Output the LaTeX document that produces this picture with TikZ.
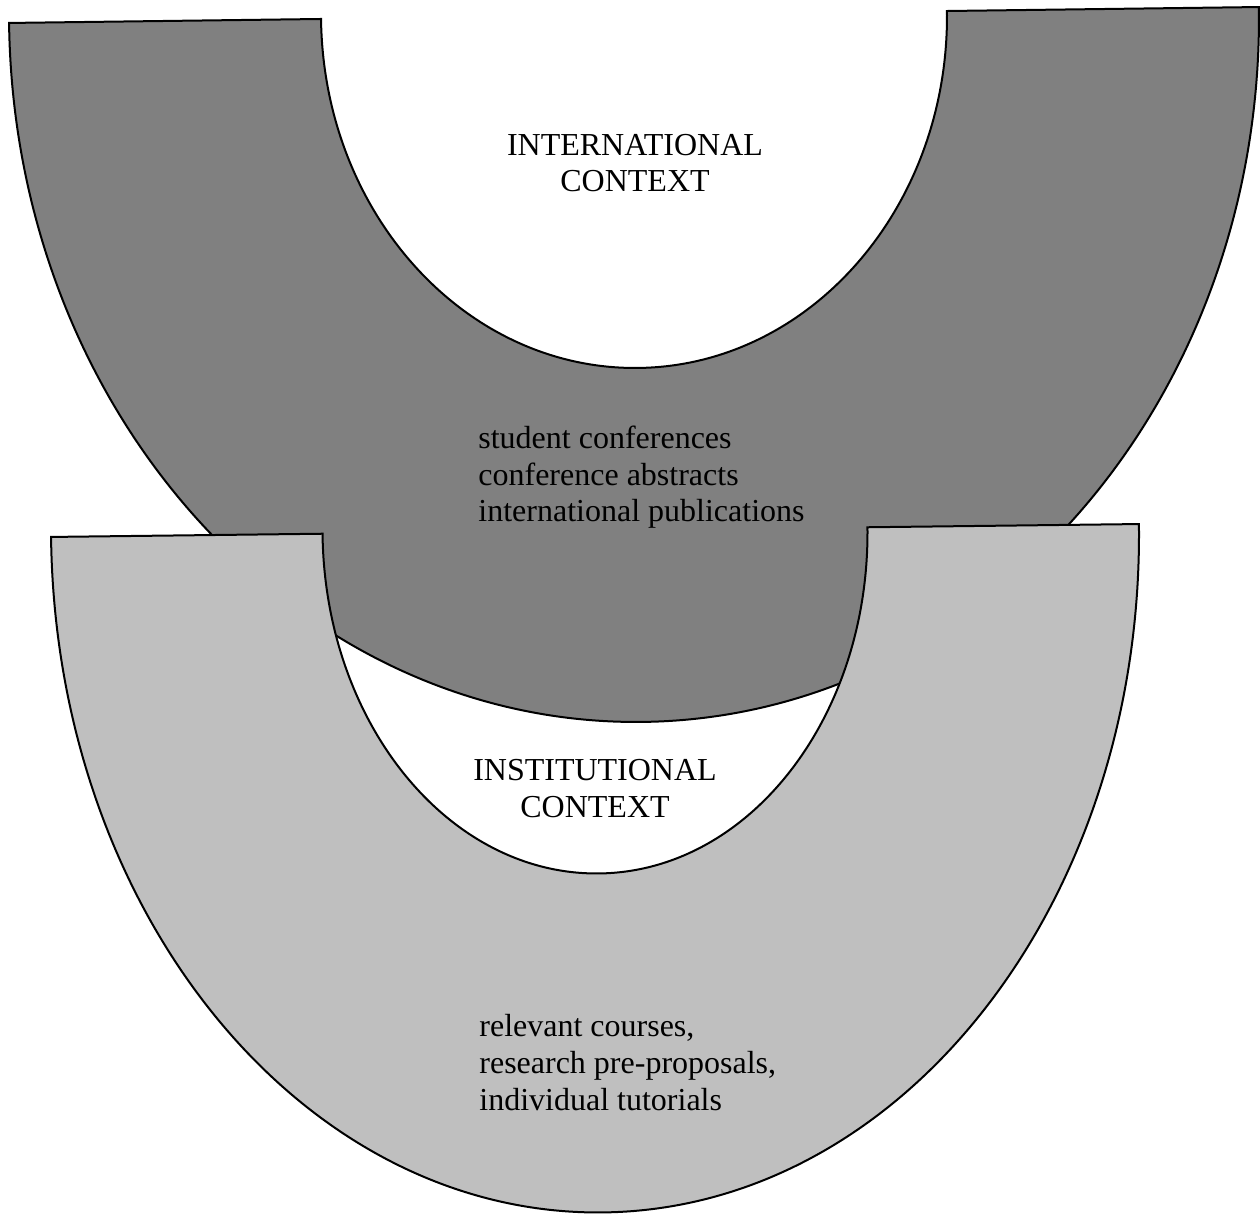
\documentclass[tikz,border=0pt]{standalone}
\usepackage{fontspec}
\setmainfont{Liberation Serif}
\begin{document}
\begin{tikzpicture}[x=0.5pt,y=-0.5pt,
  band/.style={draw=black,line width=1pt,line join=miter},
  outerband/.style={band,fill=black!50},
  innerband/.style={band,fill=black!25},
  label/.style={inner sep=0pt,font=\fontsize{16}{18.3}\selectfont}]
\useasboundingbox (0,0) rectangle (1260,1214);

% upper band: international context
\begin{scope}[shift={(634,15)},rotate=0.73]
  \filldraw[outerband] (-625,0)
    arc[start angle=180,end angle=0,x radius=625,y radius=707]
    -- (313,0)
    arc[start angle=0,end angle=180,x radius=313,y radius=353]
    -- cycle;
\end{scope}

% lower band: institutional context
\begin{scope}[shift={(595,530.5)},rotate=0.68]
  \filldraw[innerband] (-544,0)
    arc[start angle=180,end angle=0,x radius=544,y radius=682]
    -- (272.5,0)
    arc[start angle=0,end angle=180,x radius=272.5,y radius=343]
    -- cycle;
\end{scope}

% labels, each placed at the baseline of its last line
\node[label,anchor=base,align=center] (intl) at (635,192) {INTERNATIONAL\\CONTEXT};
\node[label,anchor=base west,align=left] (intlitems) at (478,522)
  {student conferences\\conference abstracts\\international publications};
\node[label,anchor=base,align=center] (inst) at (595,817) {INSTITUTIONAL\\CONTEXT};
\node[label,anchor=base west,align=left] (institems) at (479,1110)
  {relevant courses,\\research pre-proposals,\\individual tutorials};
\end{tikzpicture}
\end{document}
